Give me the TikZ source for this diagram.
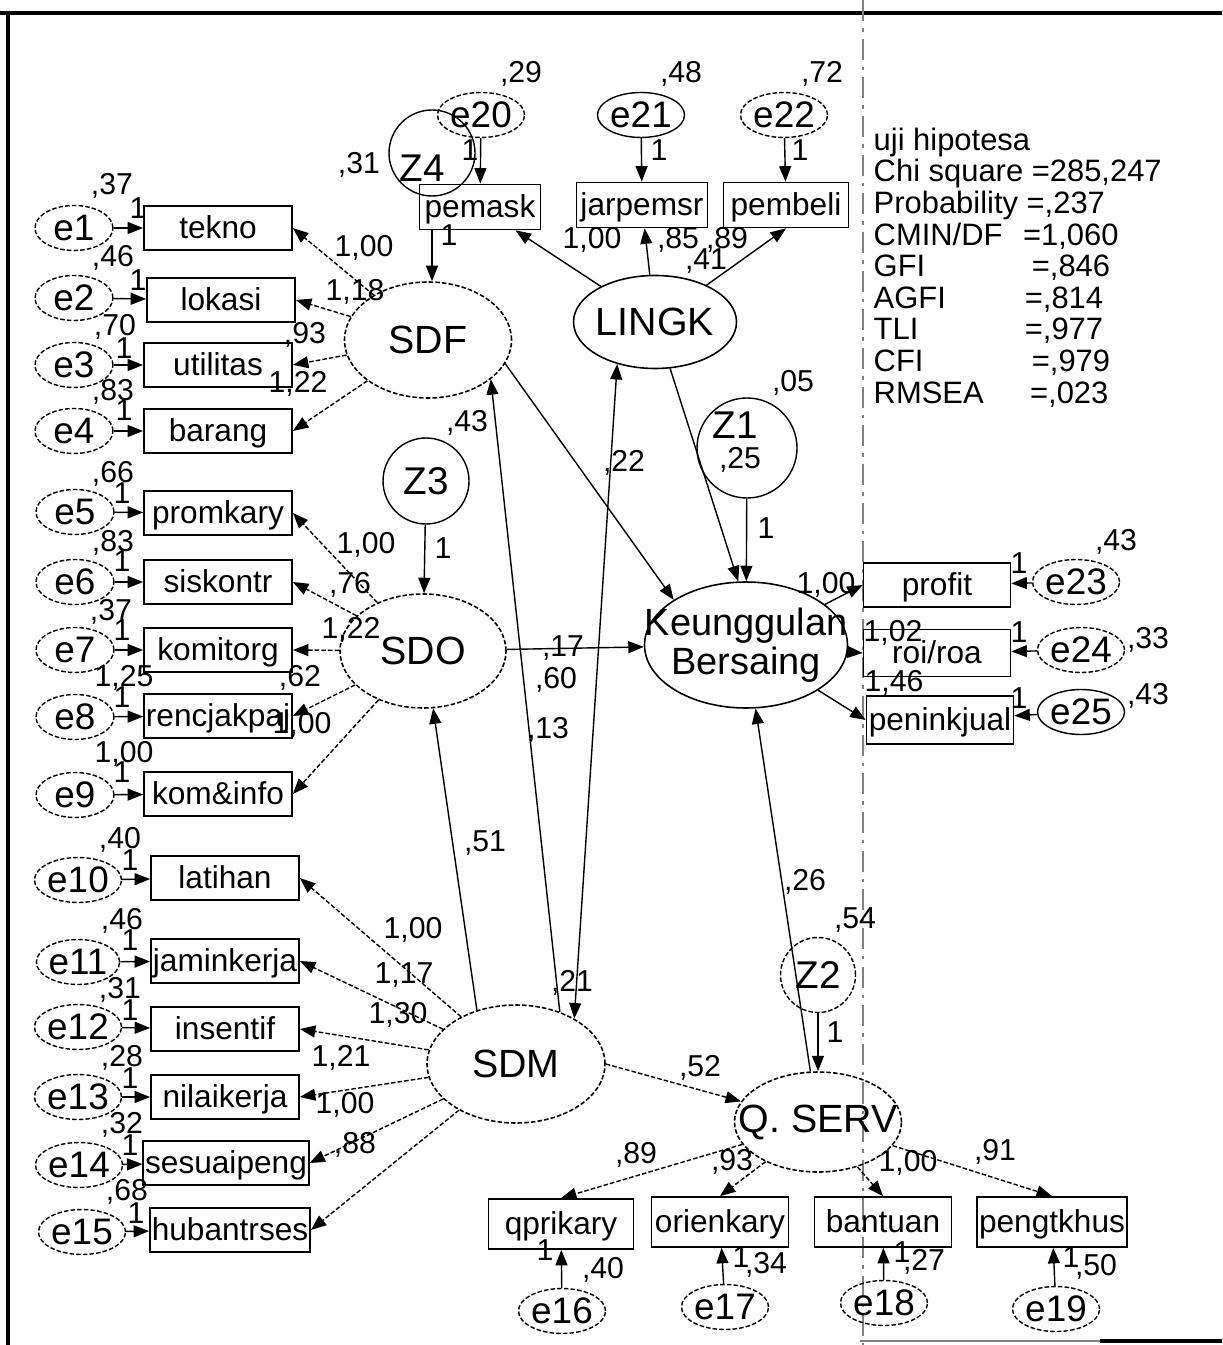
\documentclass[tikz,border=0pt]{standalone}
\usepackage{fontspec}
\setmainfont{Liberation Sans}
\usetikzlibrary{arrows.meta,shapes.geometric}
\tikzset{
  obs/.style={draw, rectangle, line width=0.5pt, minimum width=14.8mm, minimum height=4.4mm, inner sep=0.5pt, text height=1.6ex, text depth=0.45ex, font=\fontsize{9}{10}\selectfont},
  err/.style={draw, ellipse, line width=0.4pt, minimum width=7.8mm, minimum height=4.5mm, inner sep=0pt, font=\fontsize{10.5}{11}\selectfont},
  lat/.style={draw, ellipse, line width=0.45pt, inner sep=0pt, font=\fontsize{11.2}{12}\selectfont},
  dist/.style={draw, circle, line width=0.4pt, inner sep=0pt, font=\fontsize{11}{12}\selectfont},
  zname/.style={inner sep=0pt, font=\fontsize{11}{12}\selectfont},
  num/.style={inner sep=0pt, font=\fontsize{8.6}{9}\selectfont},
  arr/.style={-{Triangle[length=4.4pt,width=3.4pt]}, line width=0.4pt},
  worn/.style={dash pattern=on 1.3pt off 0.6pt},
}

\begin{document}
\begin{tikzpicture}[x=0.1mm, y=-0.1mm]
\useasboundingbox (0,0) rectangle (1222,1345);
% frame and fold line
\draw[line width=1.2pt] (0,13) -- (1222,13);
\draw[line width=1.3pt] (8,13) -- (8,1345);
\draw[line width=0.8pt, gray] (860,1341) -- (1100,1341);
\draw[line width=1.2pt] (1100,1341) -- (1222,1341);
\draw[gray, line width=0.3pt, dash pattern=on 6pt off 2pt on 1pt off 2pt] (863,0) -- (863,1345);

% latent variables
\node[lat, worn, minimum width=16.7mm, minimum height=11.6mm] (sdf) at (428,340) {SDF};
\node[lat, minimum width=16.3mm, minimum height=9.3mm] (lingk) at (655,322) {\makebox[0pt]{LINGK}};
\node[lat, worn, minimum width=16.6mm, minimum height=11.4mm] (sdo) at (423,651) {SDO};
\node[lat, minimum width=20.3mm, minimum height=12.6mm] (kb) at (746,645)
  {\makebox[0pt]{\fontsize{10.8}{11}\selectfont\shortstack{Keunggulan\\[-2pt]Bersaing}}};
\node[lat, worn, minimum width=17.8mm, minimum height=11.8mm] (sdm) at (516,1064) {SDM};
\node[lat, worn, minimum width=16.7mm, minimum height=10mm] (qserv) at (818,1122) {\makebox[0pt]{Q. SERV}};

% disturbances
\node[dist, minimum size=10mm] (z1) at (747,448) {};
\node[zname] (z1name) at (735,425) {Z1};
\node[dist, worn, minimum size=7.5mm] (z2) at (818,975) {Z2};
\node[dist, minimum size=8.6mm] (z3) at (426,481) {Z3};
\node[dist, minimum size=8.6mm] (z4) at (432,153) {};
\node[zname] (z4name) at (422,168) {Z4};

% SDF indicators
\node[obs] (tekno) at (218,228) {tekno};
\node[obs] (lokasi) at (221,300) {lokasi};
\node[obs] (utilitas) at (218,365) {utilitas};
\node[obs] (barang) at (218,431) {barang};
% SDO indicators
\node[obs] (promkary) at (218,513) {promkary};
\node[obs] (siskontr) at (218,582) {siskontr};
\node[obs] (komitorg) at (218,650) {komitorg};
\node[obs] (rencjakpaj) at (218,716) {rencjakpaj};
\node[obs] (kominfo) at (218,794) {kom\&info};
% SDM indicators
\node[obs] (latihan) at (225,878) {latihan};
\node[obs] (jaminkerja) at (225,961) {jaminkerja};
\node[obs] (insentif) at (225,1029) {insentif};
\node[obs] (nilaikerja) at (225,1097) {nilaikerja};
\node[obs] (sesuaipeng) at (226,1163) {sesuaipeng};
\node[obs] (hubantrses) at (230,1230) {hubantrses};
% LINGK indicators
\node[obs, minimum width=12.1mm, minimum height=4.5mm] (pemask) at (480,207) {pemask};
\node[obs, minimum width=13.1mm, minimum height=4.5mm] (jarpemsr) at (642,205) {jarpemsr};
\node[obs, minimum width=12.5mm, minimum height=4.5mm] (pembeli) at (786,205) {pembeli};
% Keunggulan indicators
\node[obs, minimum width=14.7mm] (profit) at (937,585) {profit};
\node[obs, minimum width=14.7mm, minimum height=4.7mm] (roiroa) at (937,653) {roi/roa};
\node[obs, minimum width=14.7mm, minimum height=4.8mm] (peninkjual) at (940,720) {peninkjual};
% Q. SERV indicators
\node[obs, minimum width=14.5mm, minimum height=5mm] (qprikary) at (561,1224) {qprikary};
\node[obs, minimum width=13.7mm, minimum height=5mm] (orienkary) at (720,1222) {orienkary};
\node[obs, minimum width=13.7mm, minimum height=5mm] (bantuan) at (883,1222) {bantuan};
\node[obs, minimum width=14.5mm, minimum height=5mm] (pengtkhus) at (1052,1222) {pengtkhus};

% error terms
\node[err, worn] (e1) at (74,228) {e1};
\node[err, worn] (e2) at (74,298) {e2};
\node[err, worn] (e3) at (74,365) {e3};
\node[err, worn] (e4) at (74,431) {e4};
\node[err, worn] (e5) at (75,512) {e5};
\node[err, worn] (e6) at (75,582) {e6};
\node[err, worn] (e7) at (75,650) {e7};
\node[err, worn] (e8) at (75,717) {e8};
\node[err, worn] (e9) at (75,795) {e9};
\node[err, worn] (e10) at (78,880) {e10};
\node[err, worn] (e11) at (78,962) {e11};
\node[err, worn] (e12) at (78,1027) {e12};
\node[err, worn] (e13) at (78,1097) {e13};
\node[err, worn] (e14) at (79,1165) {e14};
\node[err, worn] (e15) at (82,1232) {e15};
\node[err, worn] (e16) at (562,1311) {e16};
\node[err, worn] (e17) at (725,1307) {e17};
\node[err, worn] (e18) at (884,1303) {e18};
\node[err, worn] (e19) at (1056,1309) {e19};
\node[err, worn] (e20) at (481,115) {e20};
\node[err] (e21) at (641,115) {e21};
\node[err, worn] (e22) at (784,115) {e22};
\node[err, worn] (e23) at (1076,582) {e23};
\node[err, worn] (e24) at (1081,650) {e24};
\node[err] (e25) at (1081,712) {e25};

% errors into indicators
\draw[arr] (e1) -- (tekno);
\draw[arr] (e2) -- (lokasi);
\draw[arr] (e3) -- (utilitas);
\draw[arr] (e4) -- (barang);
\draw[arr] (e5) -- (promkary);
\draw[arr] (e6) -- (siskontr);
\draw[arr] (e7) -- (komitorg);
\draw[arr] (e8) -- (rencjakpaj);
\draw[arr] (e9) -- (kominfo);
\draw[arr] (e10) -- (latihan);
\draw[arr] (e11) -- (jaminkerja);
\draw[arr] (e12) -- (insentif);
\draw[arr] (e13) -- (nilaikerja);
\draw[arr] (e14) -- (sesuaipeng);
\draw[arr] (e15) -- (hubantrses);
\draw[arr] (e16) -- (qprikary);
\draw[arr] (e17) -- (orienkary);
\draw[arr] (e18) -- (bantuan);
\draw[arr] (e19) -- (pengtkhus);
\draw[arr] (e20) -- (pemask);
\draw[arr] (e21) -- (jarpemsr);
\draw[arr] (e22) -- (pembeli);
\draw[arr] (e23) -- (profit);
\draw[arr] (e24) -- (roiroa);
\draw[arr] (e25) -- (peninkjual);

% loadings
\draw[arr, worn] (sdf) -- (tekno.east);
\draw[arr, worn] (sdf) -- (lokasi.east);
\draw[arr, worn] (sdf) -- (utilitas.east);
\draw[arr, worn] (sdf) -- (barang.east);
\draw[arr, worn] (sdo) -- (promkary.east);
\draw[arr, worn] (sdo) -- (siskontr.east);
\draw[arr, worn] (sdo) -- (komitorg.east);
\draw[arr, worn] (sdo) -- (rencjakpaj.east);
\draw[arr, worn] (sdo) -- (kominfo.east);
\draw[arr, worn] (sdm) -- (latihan.east);
\draw[arr, worn] (sdm) -- (jaminkerja.east);
\draw[arr, worn] (sdm) -- (insentif.east);
\draw[arr, worn] (sdm) -- (nilaikerja.east);
\draw[arr, worn] (sdm) -- (sesuaipeng.east);
\draw[arr, worn] (sdm) -- (hubantrses.east);
\draw[arr] (lingk) -- (pemask);
\draw[arr] (lingk) -- (jarpemsr);
\draw[arr] (lingk) -- (pembeli.south);
\draw[arr] (kb) -- (profit.west);
\draw[arr] (kb) -- (roiroa.west);
\draw[arr] (kb) -- (peninkjual.west);
\draw[arr, worn] (qserv) -- (qprikary.north);
\draw[arr, worn] (qserv) -- (orienkary.north);
\draw[arr, worn] (qserv) -- (bantuan.north);
\draw[arr, worn] (qserv) -- (pengtkhus.north);

% structural paths
\draw[arr] (pemask.south -| z4) -- (sdf.north -| z4);
\draw[arr] (z3) -- (sdo);
\draw[arr] (z1) -- (kb);
\draw[arr] (z2) -- (qserv);
\draw[arr] (sdf.-17) -- (kb.148);
\draw[arr] (lingk.-72) -- (kb.97);
\draw[arr] (sdo) -- (kb);
\draw[arr] (qserv) -- (kb);
\draw[arr] (sdm.126) -- (sdo.-80);
\draw[arr] (sdm.50) -- (sdf.-32);
\draw[{Triangle[length=4.4pt,width=3.4pt]}-{Triangle[length=4.4pt,width=3.4pt]}, line width=0.4pt] (lingk.-132) -- (sdm.38);
\draw[arr, worn] (sdm.0) -- (qserv.165);

% variances and fixed ones, left column
\node[num] (ve1) at (112,186) {,37};  \node[num] (ue1) at (138,208) {1};
\node[num] (ve2) at (113,258) {,46};  \node[num] (ue2) at (138,280) {1};
\node[num] (ve3) at (115,327) {,70};  \node[num] (ue3) at (124,348) {1};
\node[num] (ve4) at (113,392) {,83};  \node[num] (ue4) at (124,410) {1};
\node[num] (ve5) at (113,474) {,66};  \node[num] (ue5) at (122,493) {1};
\node[num] (ve6) at (113,543) {,83};  \node[num] (ue6) at (122,561) {1};
\node[num] (ve7) at (111,612) {,37};  \node[num] (ue7) at (122,630) {1};
\node[num] (ve8) at (124,678) {1,25}; \node[num] (ue8) at (122,697) {1};
\node[num] (ve9) at (124,754) {1,00}; \node[num] (ue9) at (122,772) {1};
\node[num] (ve10) at (120,840) {,40};  \node[num] (ue10) at (130,860) {1};
\node[num] (ve11) at (122,921) {,46};  \node[num] (ue11) at (130,940) {1};
\node[num] (ve12) at (120,990) {,31};  \node[num] (ue12) at (130,1010) {1};
\node[num] (ve13) at (122,1058) {,28}; \node[num] (ue13) at (130,1078) {1};
\node[num] (ve14) at (122,1125) {,32}; \node[num] (ue14) at (130,1145) {1};
\node[num] (ve15) at (127,1192) {,68}; \node[num] (ue15) at (136,1213) {1};
% top row
\node[num] (ve20) at (521,74) {,29}; \node[num] (ue20) at (470,150) {1};
\node[num] (ve21) at (681,74) {,48}; \node[num] (ue21) at (659,150) {1};
\node[num] (ve22) at (822,74) {,72}; \node[num] (ue22) at (800,150) {1};
\node[num] (vz4) at (359,165) {,31}; \node[num] (uz4) at (449,235) {1};
\node[num] (lpemask) at (592,240) {1,00};
\node[num] (ljarpemsr) at (678,240) {,85};
\node[num] (lpembeli) at (727,240) {,89};
\node[num] (vlingk) at (706,261) {,41};
% SDF loadings
\node[num] (ltekno) at (364,248) {1,00};
\node[num] (llokasi) at (355,292) {1,18};
\node[num] (lutilitas) at (305,335) {,93};
\node[num] (lbarang) at (298,384) {1,22};
% SDO loadings
\node[num] (lpromkary) at (366,545) {1,00};
\node[num] (lsiskontr) at (350,585) {,76};
\node[num] (lkomitorg) at (351,630) {1,22};
\node[num] (lrencjakpaj) at (300,678) {,62};
\node[num] (lkominfo) at (302,725) {1,00};
% SDM loadings
\node[num] (llatihan) at (413,930) {1,00};
\node[num] (ljaminkerja) at (404,975) {1,17};
\node[num] (linsentif) at (398,1015) {1,30};
\node[num] (lnilaikerja) at (341,1058) {1,21};
\node[num] (lsesuaipeng) at (345,1105) {1,00};
\node[num] (lhubantrses) at (355,1145) {,88};
% structural weights and disturbance variances
\node[num] (vz3) at (467,423) {,43}; \node[num] (uz3) at (443,548) {1};
\node[num] (vz1) at (793,383) {,05}; \node[num] (uz1) at (766,528) {1};
\node[num] (vz2) at (855,920) {,54}; \node[num] (uz2) at (835,1032) {1};
\node[num] (wlingkkb) at (740,460) {,25};
\node[num] (wsdfkb) at (624,463) {,22};
\node[num] (wsdokb) at (563,648) {,17};
\node[num] (wsdmlingk) at (556,680) {,60};
\node[num] (wsdmsdf) at (548,730) {,13};
\node[num] (wsdmsdo) at (485,843) {,51};
\node[num] (vsdm) at (572,983) {,21};
\node[num] (wqservkb) at (805,882) {,26};
\node[num] (wsdmqserv) at (700,1068) {,52};
% Keunggulan loadings and errors
\node[num] (lprofit) at (826,585) {1,00};
\node[num] (lroiroa) at (893,633) {1,02};
\node[num] (lpeninkjual) at (894,683) {1,46};
\node[num] (ve23) at (1116,542) {,43}; \node[num] (ue23) at (1019,563) {1};
\node[num] (ve24) at (1148,640) {,33}; \node[num] (ue24) at (1019,632) {1};
\node[num] (ve25) at (1148,696) {,43}; \node[num] (ue25) at (1019,698) {1};
% Q. SERV loadings and errors
\node[num] (lqprikary) at (636,1155) {,89};
\node[num] (lorienkary) at (732,1162) {,93};
\node[num] (lbantuan) at (908,1163) {1,00};
\node[num] (lpengtkhus) at (995,1152) {,91};
\node[num] (ue16) at (545,1250) {1}; \node[num] (ve16) at (603,1270) {,40};
\node[num] (ue17) at (741,1257) {1}; \node[num] (ve17) at (766,1265) {,34};
\node[num] (ue18) at (902,1252) {1}; \node[num] (ve18) at (924,1262) {,27};
\node[num] (ue19) at (1071,1257) {1}; \node[num] (ve19) at (1096,1267) {,50};

% fit statistics
\node[anchor=north west, inner sep=0pt, align=left, font=\fontsize{8.8}{9}\selectfont] (stats) at (873,127)
  {uji hipotesa\\
   Chi square =285,247\\
   Probability =,237\\
   \makebox[42.5pt][l]{CMIN/DF}=1,060\\
   \makebox[45pt][l]{GFI}=,846\\
   \makebox[43pt][l]{AGFI}=,814\\
   \makebox[43pt][l]{TLI}=,977\\
   \makebox[45pt][l]{CFI}=,979\\
   \makebox[44.5pt][l]{RMSEA}=,023};
\end{tikzpicture}
\end{document}
